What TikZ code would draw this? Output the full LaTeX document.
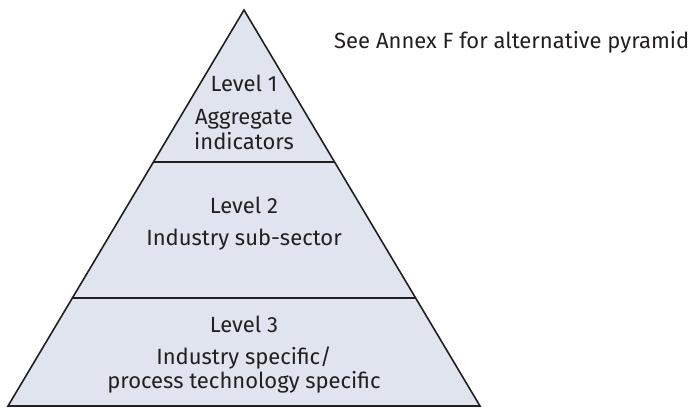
\documentclass[tikz,border=0pt]{standalone}
\usepackage{fontspec}
\setmainfont{Fira Sans}
\usetikzlibrary{calc}
\definecolor{pfill}{HTML}{DFE4EE}
\definecolor{ink}{HTML}{231F20}
\tikzset{
  lbl/.style={anchor=base, inner sep=0pt, text=ink, font=\fontsize{22}{25}\selectfont},
  edge/.style={draw=ink, line width=1.6pt, line join=miter}
}
\begin{document}
\begin{tikzpicture}[x=1pt,y=-1pt]
\useasboundingbox (0,0) rectangle (692,408);
\coordinate (apex) at (244,10);
\coordinate (bl) at (8,406);
\coordinate (br) at (480,406);
\coordinate (l1) at ($(apex)!0.3838!(bl)$);
\coordinate (r1) at ($(apex)!0.3838!(br)$);
\coordinate (l2) at ($(apex)!0.7273!(bl)$);
\coordinate (r2) at ($(apex)!0.7273!(br)$);
\fill[pfill] (bl) -- (apex) -- (br) -- cycle;
\draw[edge] (l1) -- (r1);
\draw[edge] (l2) -- (r2);
\draw[edge] (bl) -- (apex) -- (br) -- cycle;
\node[lbl] (t1a) at (244,91) {Level 1};
\node[lbl] (t1b) at (244,124) {Aggregate};
\node[lbl] (t1c) at (244,149) {indicators};
\node[lbl] (t2a) at (244,213) {Level 2};
\node[lbl] (t2b) at (244,245) {Industry sub-sector};
\node[lbl] (t3a) at (244,332) {Level 3};
\node[lbl] (t3b) at (244,364) {Industry specific/};
\node[lbl] (t3c) at (244,388) {process technology specific};
\node[lbl, anchor=base west] (annex) at (334,48) {See Annex F for alternative pyramid};
\end{tikzpicture}
\end{document}
